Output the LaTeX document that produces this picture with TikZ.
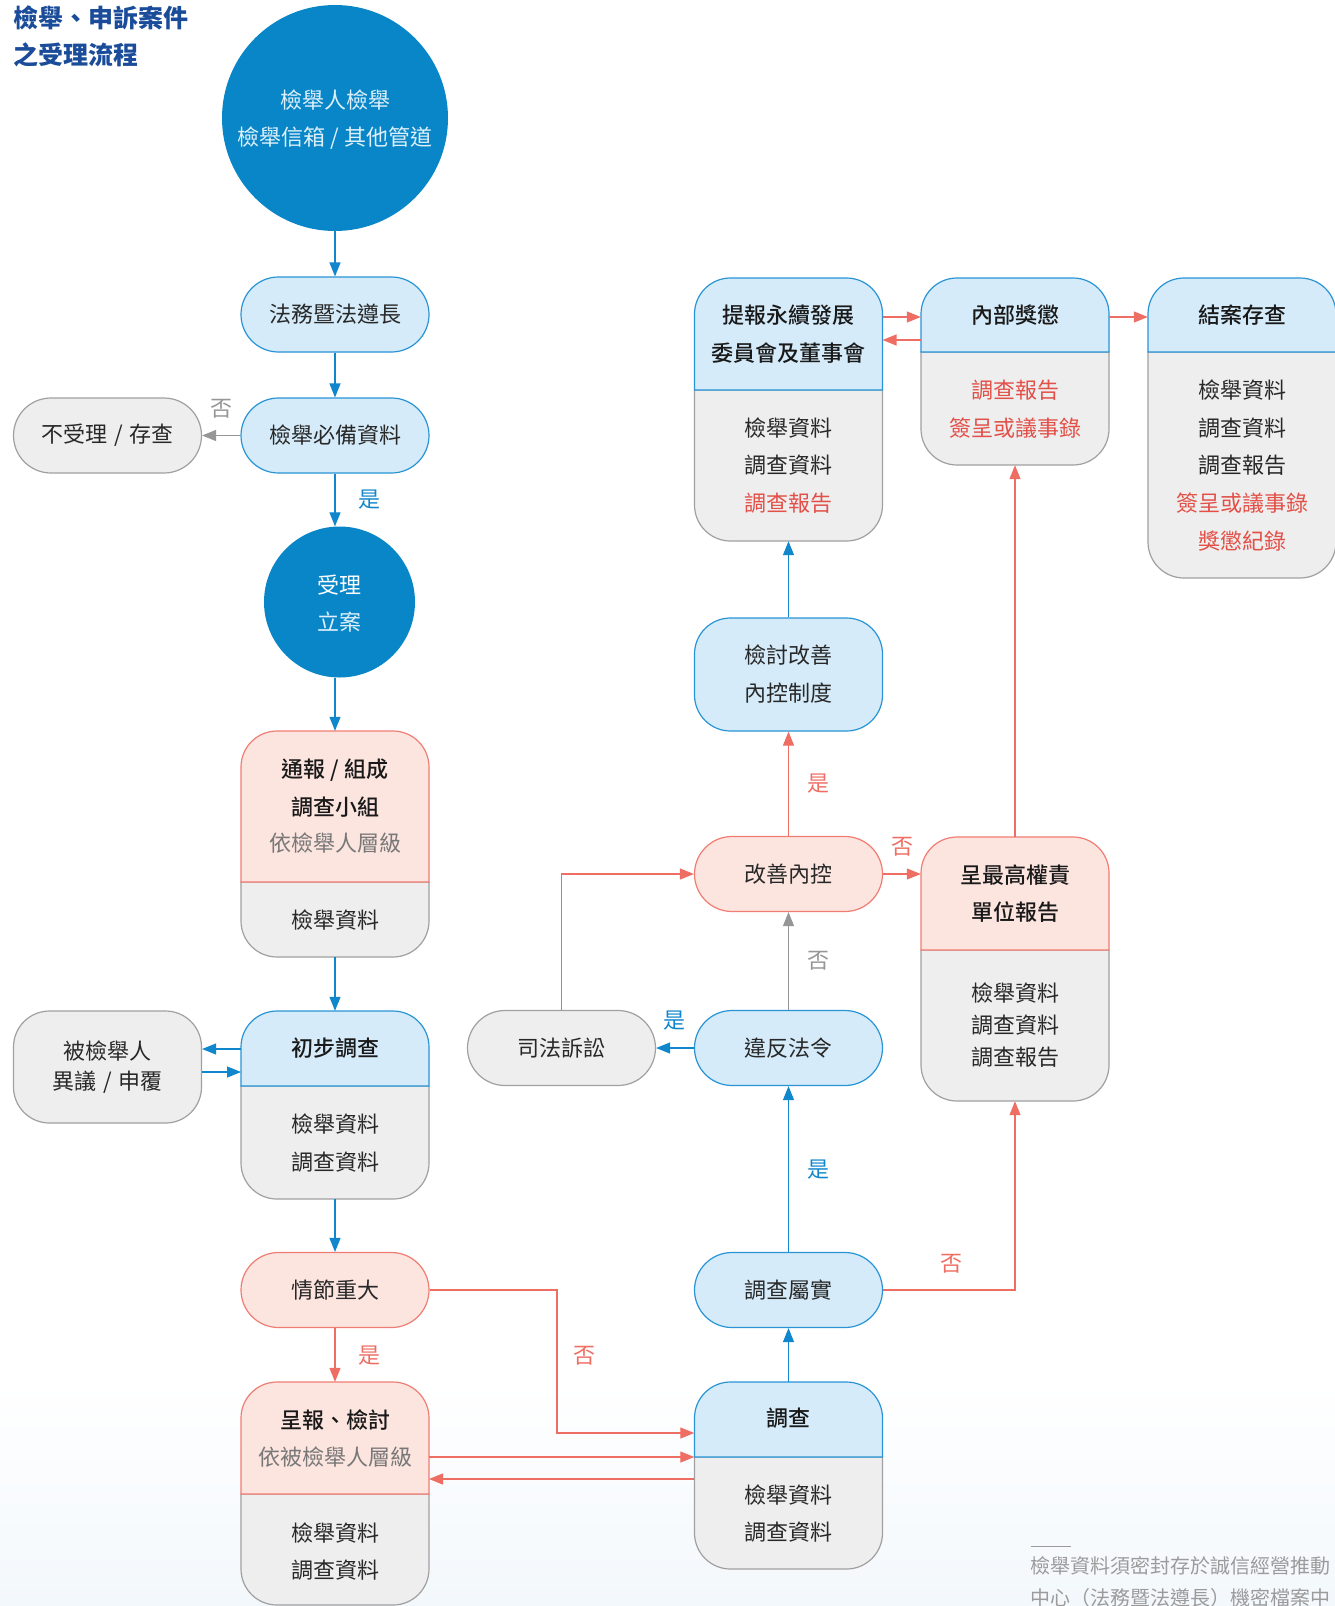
\documentclass[tikz,border=0pt]{standalone}
\usepackage{fontspec}
\setmainfont{Noto Sans CJK TC}
\newfontfamily\medfont{Noto Sans CJK TC Medium}
\usetikzlibrary{arrows.meta,fit,calc}
\definecolor{dblue}{RGB}{8,134,200}
\definecolor{bfill}{RGB}{213,235,249}
\definecolor{bdraw}{RGB}{40,148,214}
\definecolor{pfill}{RGB}{252,228,223}
\definecolor{pdraw}{RGB}{240,125,115}
\definecolor{gfill}{RGB}{238,238,238}
\definecolor{gdraw}{RGB}{160,160,160}
\definecolor{redtxt}{RGB}{226,80,72}
\definecolor{redln}{RGB}{238,110,100}
\definecolor{blueln}{RGB}{16,135,205}
\definecolor{grayln}{RGB}{150,150,150}
\definecolor{titleblue}{RGB}{26,76,154}
\definecolor{subgray}{RGB}{120,120,120}
\definecolor{txt}{RGB}{40,40,40}
\definecolor{lighttxt}{RGB}{222,240,250}
\definecolor{footgray}{RGB}{155,155,155}
\definecolor{bgblue}{RGB}{243,248,252}
\newcommand\fsz[1]{\fontsize{#1pt}{#1pt}\selectfont}
% name, x1, y1, x2, ysplit, y2, top style, bottom style
\newcommand\splitbox[8]{%
  \path (#2,#3) coordinate (#1-nw) (#4,#6) coordinate (#1-se);
  \node[fit=(#1-nw)(#1-se), inner sep=0pt, draw=none] (#1) {};
  \path[#8, line width=1.2pt] (#4,#5) [rounded corners=36pt] -- (#4,#6) -- (#2,#6) [sharp corners] -- (#2,#5) -- cycle;
  \path[#7, line width=1.2pt] (#2,#5) [rounded corners=36pt] -- (#2,#3) -- (#4,#3) [sharp corners] -- (#4,#5) -- cycle;
}
\tikzset{
  t/.style={font=\fsz{22}, text=txt, inner sep=0pt},
  tb/.style={font=\fsz{22}\medfont, text=black!90, inner sep=0pt},
  tr/.style={font=\fsz{22}, text=redtxt, inner sep=0pt},
  tg/.style={font=\fsz{22}, text=subgray, inner sep=0pt},
  pill/.style={rounded corners=37.5pt, minimum width=188pt, minimum height=75pt, line width=1.2pt, inner sep=0pt, font=\fsz{22}, text=txt},
  pillB/.style={pill, fill=bfill, draw=bdraw},
  pillP/.style={pill, fill=pfill, draw=pdraw},
  pillG/.style={pill, fill=gfill, draw=gdraw},
  topB/.style={fill=bfill, draw=bdraw},
  topP/.style={fill=pfill, draw=pdraw},
  botG/.style={fill=gfill, draw=gdraw},
  tip/.style={-{Triangle[length=14pt,width=11pt]}},
  arrB/.style={draw=blueln, line width=1.2pt, tip},
  arrR/.style={draw=redln, line width=1.2pt, tip},
  arrG/.style={draw=grayln, line width=1.2pt, tip},
  lab/.style={font=\fsz{22}, inner sep=0pt},
}
\begin{document}
\begin{tikzpicture}[x=1pt, y=-1pt]
\clip (0,0) rectangle (1335,1606);
\fill[white] (0,0) rectangle (1335,1606);
\shade[top color=white, bottom color=bgblue] (0,1380) rectangle (1335,1606);

% title
\node[anchor=west, font=\fsz{25}\bfseries, text=titleblue, inner sep=0pt] (title1) at (13,18) {檢舉、申訴案件};
\node[anchor=west, font=\fsz{25}\bfseries, text=titleblue, inner sep=0pt] (title2) at (13,55) {之受理流程};

% source circle
\node[circle, fill=dblue, minimum size=226pt, inner sep=0pt] (src) at (335,118) {};
\node[t, text=lighttxt] (src1) at (335,100) {檢舉人檢舉};
\node[t, text=lighttxt] (src2) at (335,138) {檢舉信箱 / 其他管道};

\node[pillB] (legal) at (335,314.5) {法務暨法遵長};
\node[pillB] (required) at (335,435.5) {檢舉必備資料};
\node[pillG] (reject) at (107.5,435.5) {不受理\hspace{0.3em}/\hspace{0.3em}存查};

% accept circle
\node[circle, fill=dblue, minimum size=151pt, inner sep=0pt] (accept) at (339.5,602) {};
\node[t, text=white] (acc1) at (339.5,585) {受理};
\node[t, text=lighttxt] (acc2) at (339.5,622) {立案};

% notify box
\splitbox{notify}{241}{731}{429}{882}{957}{topP}{botG}
\node[tb] (notify1) at (335,770) {通報 / 組成};
\node[tb] (notify2) at (335,807) {調查小組};
\node[tg] (notify3) at (335,843) {依檢舉人層級};
\node[t] (notify4) at (335,920) {檢舉資料};

% preliminary investigation
\splitbox{prelim}{241}{1011}{429}{1086}{1199}{topB}{botG}
\node[tb] (prelim1) at (335,1048) {初步調查};
\node[t] (prelim2) at (335,1124) {檢舉資料};
\node[t] (prelim3) at (335,1162) {調查資料};

% objection
\node[rounded corners=36pt, fill=gfill, draw=gdraw, line width=1.2pt, minimum width=188pt, minimum height=112pt, inner sep=0pt] (objection) at (107.5,1067) {};
\node[t] (obj1) at (107.5,1051) {被檢舉人};
\node[t] (obj2) at (107.5,1082) {異議\hspace{0.3em}/\hspace{0.3em}申覆};

\node[pillP] (serious) at (335,1290) {情節重大};

% report
\splitbox{report}{241}{1382}{429}{1494}{1605}{topP}{botG}
\node[tb] (report1) at (335,1420) {呈報、檢討};
\node[tg] (report2) at (335,1457) {依被檢舉人層級};
\node[t] (report3) at (335,1533) {檢舉資料};
\node[t] (report4) at (335,1570) {調查資料};

% middle column
\node[pillG] (lawsuit) at (561.5,1048) {司法訴訟};
\node[pillB] (violate) at (788.5,1048) {違反法令};
\node[pillP] (improve) at (788.5,874) {改善內控};
\node[pillB] (verified) at (788.5,1290) {調查屬實};

\node[rounded corners=36pt, fill=bfill, draw=bdraw, line width=1.2pt, minimum width=188pt, minimum height=113pt, inner sep=0pt] (review) at (788.5,674.5) {};
\node[t] (review1) at (788.5,655) {檢討改善};
\node[t] (review2) at (788.5,693) {內控制度};

\splitbox{board}{694.5}{278}{882.5}{390}{541}{topB}{botG}
\node[tb] (board1) at (788.5,315) {提報永續發展};
\node[tb] (board2) at (788.5,353) {委員會及董事會};
\node[t] (board3) at (788.5,428) {檢舉資料};
\node[t] (board4) at (788.5,465) {調查資料};
\node[tr] (board5) at (788.5,503) {調查報告};

\splitbox{investigate}{694.5}{1382}{882.5}{1457}{1569}{topB}{botG}
\node[tb] (inv1) at (788.5,1418) {調查};
\node[t] (inv2) at (788.5,1495) {檢舉資料};
\node[t] (inv3) at (788.5,1532) {調查資料};

% right columns
\splitbox{discipline}{921}{278}{1109}{352}{465}{topB}{botG}
\node[tb] (disc1) at (1015,315) {內部獎懲};
\node[tr] (disc2) at (1015,390) {調查報告};
\node[tr] (disc3) at (1015,428) {簽呈或議事錄};

\splitbox{archive}{1148}{278}{1336}{352}{578}{topB}{botG}
\node[tb] (arc1) at (1242,315) {結案存查};
\node[t] (arc2) at (1242,390) {檢舉資料};
\node[t] (arc3) at (1242,428) {調查資料};
\node[t] (arc4) at (1242,465) {調查報告};
\node[tr] (arc5) at (1242,503) {簽呈或議事錄};
\node[tr] (arc6) at (1242,541) {獎懲紀錄};

\splitbox{ceo}{921}{837}{1109}{950}{1101}{topP}{botG}
\node[tb] (ceo1) at (1015,875) {呈最高權責};
\node[tb] (ceo2) at (1015,912) {單位報告};
\node[t] (ceo3) at (1015,993) {檢舉資料};
\node[t] (ceo4) at (1015,1025) {調查資料};
\node[t] (ceo5) at (1015,1057) {調查報告};

% connectors
\draw[arrB] (src.south) -- (legal.north);
\draw[arrB] (legal.south) -- (required.north);
\draw[arrG] (required.west) -- (reject.east);
\draw[arrB] (required.south) -- (required.south |- accept.north);
\draw[arrB] (notify.north |- accept.south) -- (notify.north);
\draw[arrB] (notify.south) -- (prelim.north);
\coordinate (objA) at (241,1049);
\coordinate (objB) at (241,1072);
\draw[arrB] (objA) -- (objection.east |- objA);
\draw[arrB] (objection.east |- objB) -- (objB);
\draw[arrB] (prelim.south) -- (serious.north);
\draw[arrR] (serious.south) -- (report.north);
\coordinate (bendA) at (557,1290);
\coordinate (bendB) at (557,1433);
\draw[arrR] (serious.east) -- (bendA) -- (bendB) -- (investigate.west |- bendB);
\coordinate (repA) at (429,1457);
\coordinate (repB) at (429,1479);
\draw[arrR] (repA) -- (investigate.west |- repA);
\draw[arrR] (investigate.west |- repB) -- (repB);
\draw[arrB] (investigate.north) -- (verified.south);
\draw[arrB] (verified.north) -- (violate.south);
\draw[arrR] (verified.east) -- (ceo.south |- verified.east) -- (ceo.south);
\draw[arrB] (violate.west) -- (lawsuit.east);
\draw[arrG] (violate.north) -- (improve.south);
\draw[arrR] (lawsuit.north) -- (lawsuit.north |- improve.west) -- (improve.west);
\draw[arrR] (improve.north) -- (review.south);
\draw[arrR] (improve.east) -- (ceo.west |- improve.east);
\draw[arrB] (review.north) -- (board.south);
\draw[arrR] (ceo.north) -- (discipline.south);
\coordinate (bdA) at (882.5,317);
\coordinate (bdB) at (882.5,340);
\draw[arrR] (bdA) -- (discipline.west |- bdA);
\draw[arrR] (discipline.west |- bdB) -- (bdB);
\draw[arrR] (discipline.east |- bdA) -- (archive.west |- bdA);

% labels
\node[lab, text=grayln] (l1) at (221,409) {否};
\node[lab, text=blueln] (l2) at (369,500) {是};
\node[lab, text=redln] (l3) at (369,1356) {是};
\node[lab, text=redln] (l4) at (584,1356) {否};
\node[lab, text=blueln] (l5) at (818,1170) {是};
\node[lab, text=redln] (l6) at (951,1264) {否};
\node[lab, text=blueln] (l7) at (674,1021) {是};
\node[lab, text=grayln] (l8) at (818,961) {否};
\node[lab, text=redln] (l9) at (818,784) {是};
\node[lab, text=redln] (l10) at (902,847) {否};

% footnote
\draw[footgray, line width=1pt] (1031,1546) -- (1071,1546);
\node[anchor=west, font=\fsz{20}, text=footgray, inner sep=0pt] (foot1) at (1030,1566) {檢舉資料須密封存於誠信經營推動};
\node[anchor=west, font=\fsz{20}, text=footgray, inner sep=0pt] (foot2) at (1030,1598) {中心（法務暨法遵長）機密檔案中};
\end{tikzpicture}
\end{document}
